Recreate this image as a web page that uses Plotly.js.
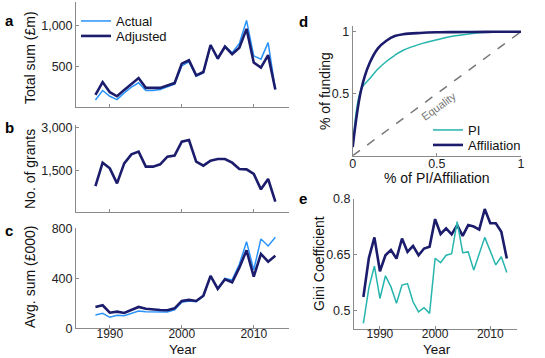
<!DOCTYPE html>
<html>
<head>
<meta charset="utf-8">
<script src="https://cdn.plot.ly/plotly-3.0.1.min.js"></script>
<style>
  html, body { margin: 0; padding: 0; background: #fff; }
  #chart { width: 545px; height: 358px; }
</style>
</head>
<body>
<div id="chart"></div>
<script>
// Years for panels a-c and panel e
const years = [1988, 1989, 1990, 1991, 1992, 1993, 1994, 1995, 1996, 1997, 1998, 1999, 2000,
               2001, 2002, 2003, 2004, 2005, 2006, 2007, 2008, 2009, 2010, 2011, 2012, 2013];
const giniYears = [1987].concat(years);

// a: total sum (£m)
const totalActual = [83, 200, 129, 88, 171, 242, 296, 200, 200, 213, 246, 279, 504,
                     554, 375, 417, 763, 588, 750, 667, 783, 1067, 629, 588, 792, 213];
const totalAdjusted = [146, 304, 179, 129, 208, 283, 354, 233, 229, 233, 263, 292, 533,
                       575, 388, 429, 763, 596, 742, 650, 729, 963, 546, 483, 638, 213];

// b: number of grants
const grants = [969, 1777, 1581, 1062, 1754, 2065, 2158, 1638, 1638, 1719, 1985, 2019, 2504,
                2562, 1812, 1673, 1846, 1904, 1904, 1777, 1558, 1546, 1385, 854, 1212, 427];

// c: average sum (£000)
const avgActual = [107, 120, 88, 104, 101, 120, 139, 133, 131, 128, 131, 147, 208,
                   219, 213, 256, 419, 320, 400, 387, 512, 693, 467, 715, 659, 728];
const avgAdjusted = [171, 184, 125, 133, 123, 147, 171, 157, 149, 147, 144, 160, 219,
                     227, 219, 261, 419, 315, 392, 368, 485, 624, 413, 595, 533, 581];

// d: Lorenz curves
const lorenzX = [0, 0.05, 0.1, 0.15, 0.2, 0.25, 0.3, 0.4, 0.5, 0.6, 0.7, 0.8, 0.9, 1];
const lorenzPI = [0.07, 0.535, 0.62, 0.70, 0.76, 0.81, 0.85, 0.90, 0.935, 0.965, 0.984, 0.995, 0.999, 1];
const lorenzAff = [0.07, 0.53, 0.745, 0.866, 0.927, 0.965, 0.98, 0.99, 0.995, 0.997, 0.998, 0.999, 1, 1];
const equality = [0, 1];

// e: Gini coefficient
const giniPI = [0.466, 0.562, 0.620, 0.533, 0.594, 0.564, 0.520, 0.569, 0.573, 0.524, 0.497, 0.508, 0.493, 0.641,
                0.629, 0.649, 0.653, 0.739, 0.656, 0.658, 0.609, 0.654, 0.697, 0.660, 0.623, 0.645, 0.603];
const giniAff = [0.537, 0.642, 0.697, 0.606, 0.649, 0.663, 0.640, 0.694, 0.658, 0.674, 0.649, 0.667, 0.672, 0.746,
                 0.706, 0.721, 0.705, 0.730, 0.701, 0.730, 0.726, 0.718, 0.773, 0.735, 0.735, 0.712, 0.640];

const yearTicks = [1990, 2000, 2010];

const LIGHT = '#2a93fb';
const DARK = '#1c1c6c';
const TEAL = '#26b5ad';
const FONT = 'Liberation Sans, Arial, sans-serif';

// pixel -> paper helpers
const W = 545, H = 358;
const px = x => x / W;
const py = y => 1 - y / H;

const data = [
    { x: years, y: totalActual, xaxis: 'x', yaxis: 'y', mode: 'lines', name: 'Actual',
      line: { color: LIGHT, width: 1.5 }, legend: 'legend' },
    { x: years, y: totalAdjusted, xaxis: 'x', yaxis: 'y', mode: 'lines', name: 'Adjusted',
      line: { color: DARK, width: 2.6 }, legend: 'legend2' },
    { x: years, y: grants, xaxis: 'x2', yaxis: 'y2', mode: 'lines', showlegend: false,
      line: { color: DARK, width: 2.6 } },
    { x: years, y: avgActual, xaxis: 'x3', yaxis: 'y3', mode: 'lines', showlegend: false,
      line: { color: LIGHT, width: 1.5 } },
    { x: years, y: avgAdjusted, xaxis: 'x3', yaxis: 'y3', mode: 'lines', showlegend: false,
      line: { color: DARK, width: 2.6 } },
    { x: equality, y: equality, xaxis: 'x4', yaxis: 'y4', mode: 'lines', showlegend: false,
      line: { color: '#777', width: 1.5, dash: 'dash' } },
    { x: lorenzX, y: lorenzPI, xaxis: 'x4', yaxis: 'y4', mode: 'lines', name: 'PI',
      line: { color: TEAL, width: 1.5, shape: 'spline' }, legend: 'legend3' },
    { x: lorenzX, y: lorenzAff, xaxis: 'x4', yaxis: 'y4', mode: 'lines', name: 'Affiliation',
      line: { color: DARK, width: 2.6, shape: 'spline' }, legend: 'legend4' },
    { x: giniYears, y: giniAff, xaxis: 'x5', yaxis: 'y5', mode: 'lines', showlegend: false,
      line: { color: DARK, width: 2.6 } },
    { x: giniYears, y: giniPI, xaxis: 'x5', yaxis: 'y5', mode: 'lines', showlegend: false,
      line: { color: TEAL, width: 1.5 } }
];

function axis(extra) {
    return Object.assign({
        showline: true, linecolor: '#8a8a8a', linewidth: 1,
        ticks: 'inside', ticklen: 3, tickcolor: '#8a8a8a',
        showgrid: false, zeroline: false, fixedrange: true,
        tickfont: { family: FONT, size: 12.5, color: '#222' }
    }, extra);
}

// bottom year axes (c, e) with labels pulled up close to the spine
const yearTickFont = { family: FONT, size: 12, color: '#222' };

const leftX = [px(76), px(289)];
const yearRange = [1985.3, 2014.9];

function ann(text, x, y, opts) {
    return Object.assign({
        text: text, xref: 'paper', yref: 'paper', x: px(x), y: py(y),
        xanchor: 'center', yanchor: 'middle', showarrow: false,
        font: { family: FONT, size: 14, color: '#111' }
    }, opts);
}

function legendAt(x, y) {
    return {
        x: px(x), y: py(y), xanchor: 'left', yanchor: 'top',
        bgcolor: 'rgba(0,0,0,0)', borderwidth: 0,
        font: { family: FONT, size: 13, color: '#111' }
    };
}

const letterFont = { family: FONT, size: 15, color: '#000' };
const yearFont = { family: FONT, size: 13.5, color: '#111' };

const layout = {
    width: W, height: H,
    margin: { l: 0, r: 0, t: 0, b: 0 },
    paper_bgcolor: '#fff', plot_bgcolor: 'rgba(0,0,0,0)',
    font: { family: FONT, size: 12, color: '#222' },
    xaxis: axis({ domain: leftX, range: yearRange, tickvals: yearTicks, showticklabels: false, anchor: 'y' }),
    yaxis: axis({ domain: [py(106.7), py(2)], range: [0, 1295], tickvals: [500, 1000], tickformat: ',', anchor: 'x' }),
    xaxis2: axis({ domain: leftX, range: yearRange, tickvals: yearTicks, showticklabels: false, anchor: 'y2' }),
    yaxis2: axis({ domain: [py(211.7), py(125)], range: [80, 3080], tickvals: [1500, 3000], tickformat: ',', anchor: 'x2' }),
    xaxis3: axis({ domain: leftX, range: yearRange, tickvals: yearTicks, ticklabelstandoff: -6, tickfont: yearTickFont, anchor: 'y3' }),
    yaxis3: axis({ domain: [py(328.3), py(228.3)], range: [0, 800], tickvals: [0, 400, 800], anchor: 'x3' }),
    xaxis4: axis({ domain: [px(352.7), px(521)], range: [0, 1], tickvals: [0, 0.5, 1], ticklabelstandoff: -4, anchor: 'y4' }),
    yaxis4: axis({ domain: [py(155.7), py(26)], range: [0, 1.046], tickvals: [0.5, 1], anchor: 'x4' }),
    xaxis5: axis({ domain: [px(354), px(517.3)], range: yearRange, tickvals: yearTicks, ticklabelstandoff: -6, tickfont: yearTickFont, anchor: 'y5' }),
    yaxis5: axis({ domain: [py(329), py(199)], range: [0.451, 0.8], tickvals: [0.5, 0.65, 0.8], anchor: 'x5' }),
    legend: legendAt(76, 6),
    legend2: legendAt(76, 21),
    legend3: legendAt(428, 115),
    legend4: legendAt(428, 130),
    annotations: [
        ann('<b>a</b>', 9, 21, { font: letterFont }),
        ann('<b>b</b>', 9, 127, { font: letterFont }),
        ann('<b>c</b>', 9, 231, { font: letterFont }),
        ann('<b>d</b>', 303, 22, { font: letterFont }),
        ann('<b>e</b>', 303, 198, { font: letterFont }),
        ann('Total sum (£m)', 30, 58, { textangle: -90 }),
        ann('No. of grants', 30, 169, { textangle: -90 }),
        ann('Avg. sum (£000)', 30, 277, { textangle: -90 }),
        ann('Year', 183, 349.3, { font: yearFont }),
        ann('% of funding', 325, 91, { textangle: -90 }),
        ann('% of PI/Affiliation', 437, 177.5),
        ann('Gini Coefficient', 319, 264, { textangle: -90 }),
        ann('Year', 437, 349.3, { font: yearFont }),
        { text: 'Equality', xref: 'x4', yref: 'y4', x: 0.513, y: 0.40, showarrow: false,
          textangle: -36, xanchor: 'center', yanchor: 'middle',
          font: { family: FONT, size: 11, color: '#777' } }
    ]
};

Plotly.newPlot('chart', data, layout, { staticPlot: true, displayModeBar: false });
</script>
</body>
</html>
